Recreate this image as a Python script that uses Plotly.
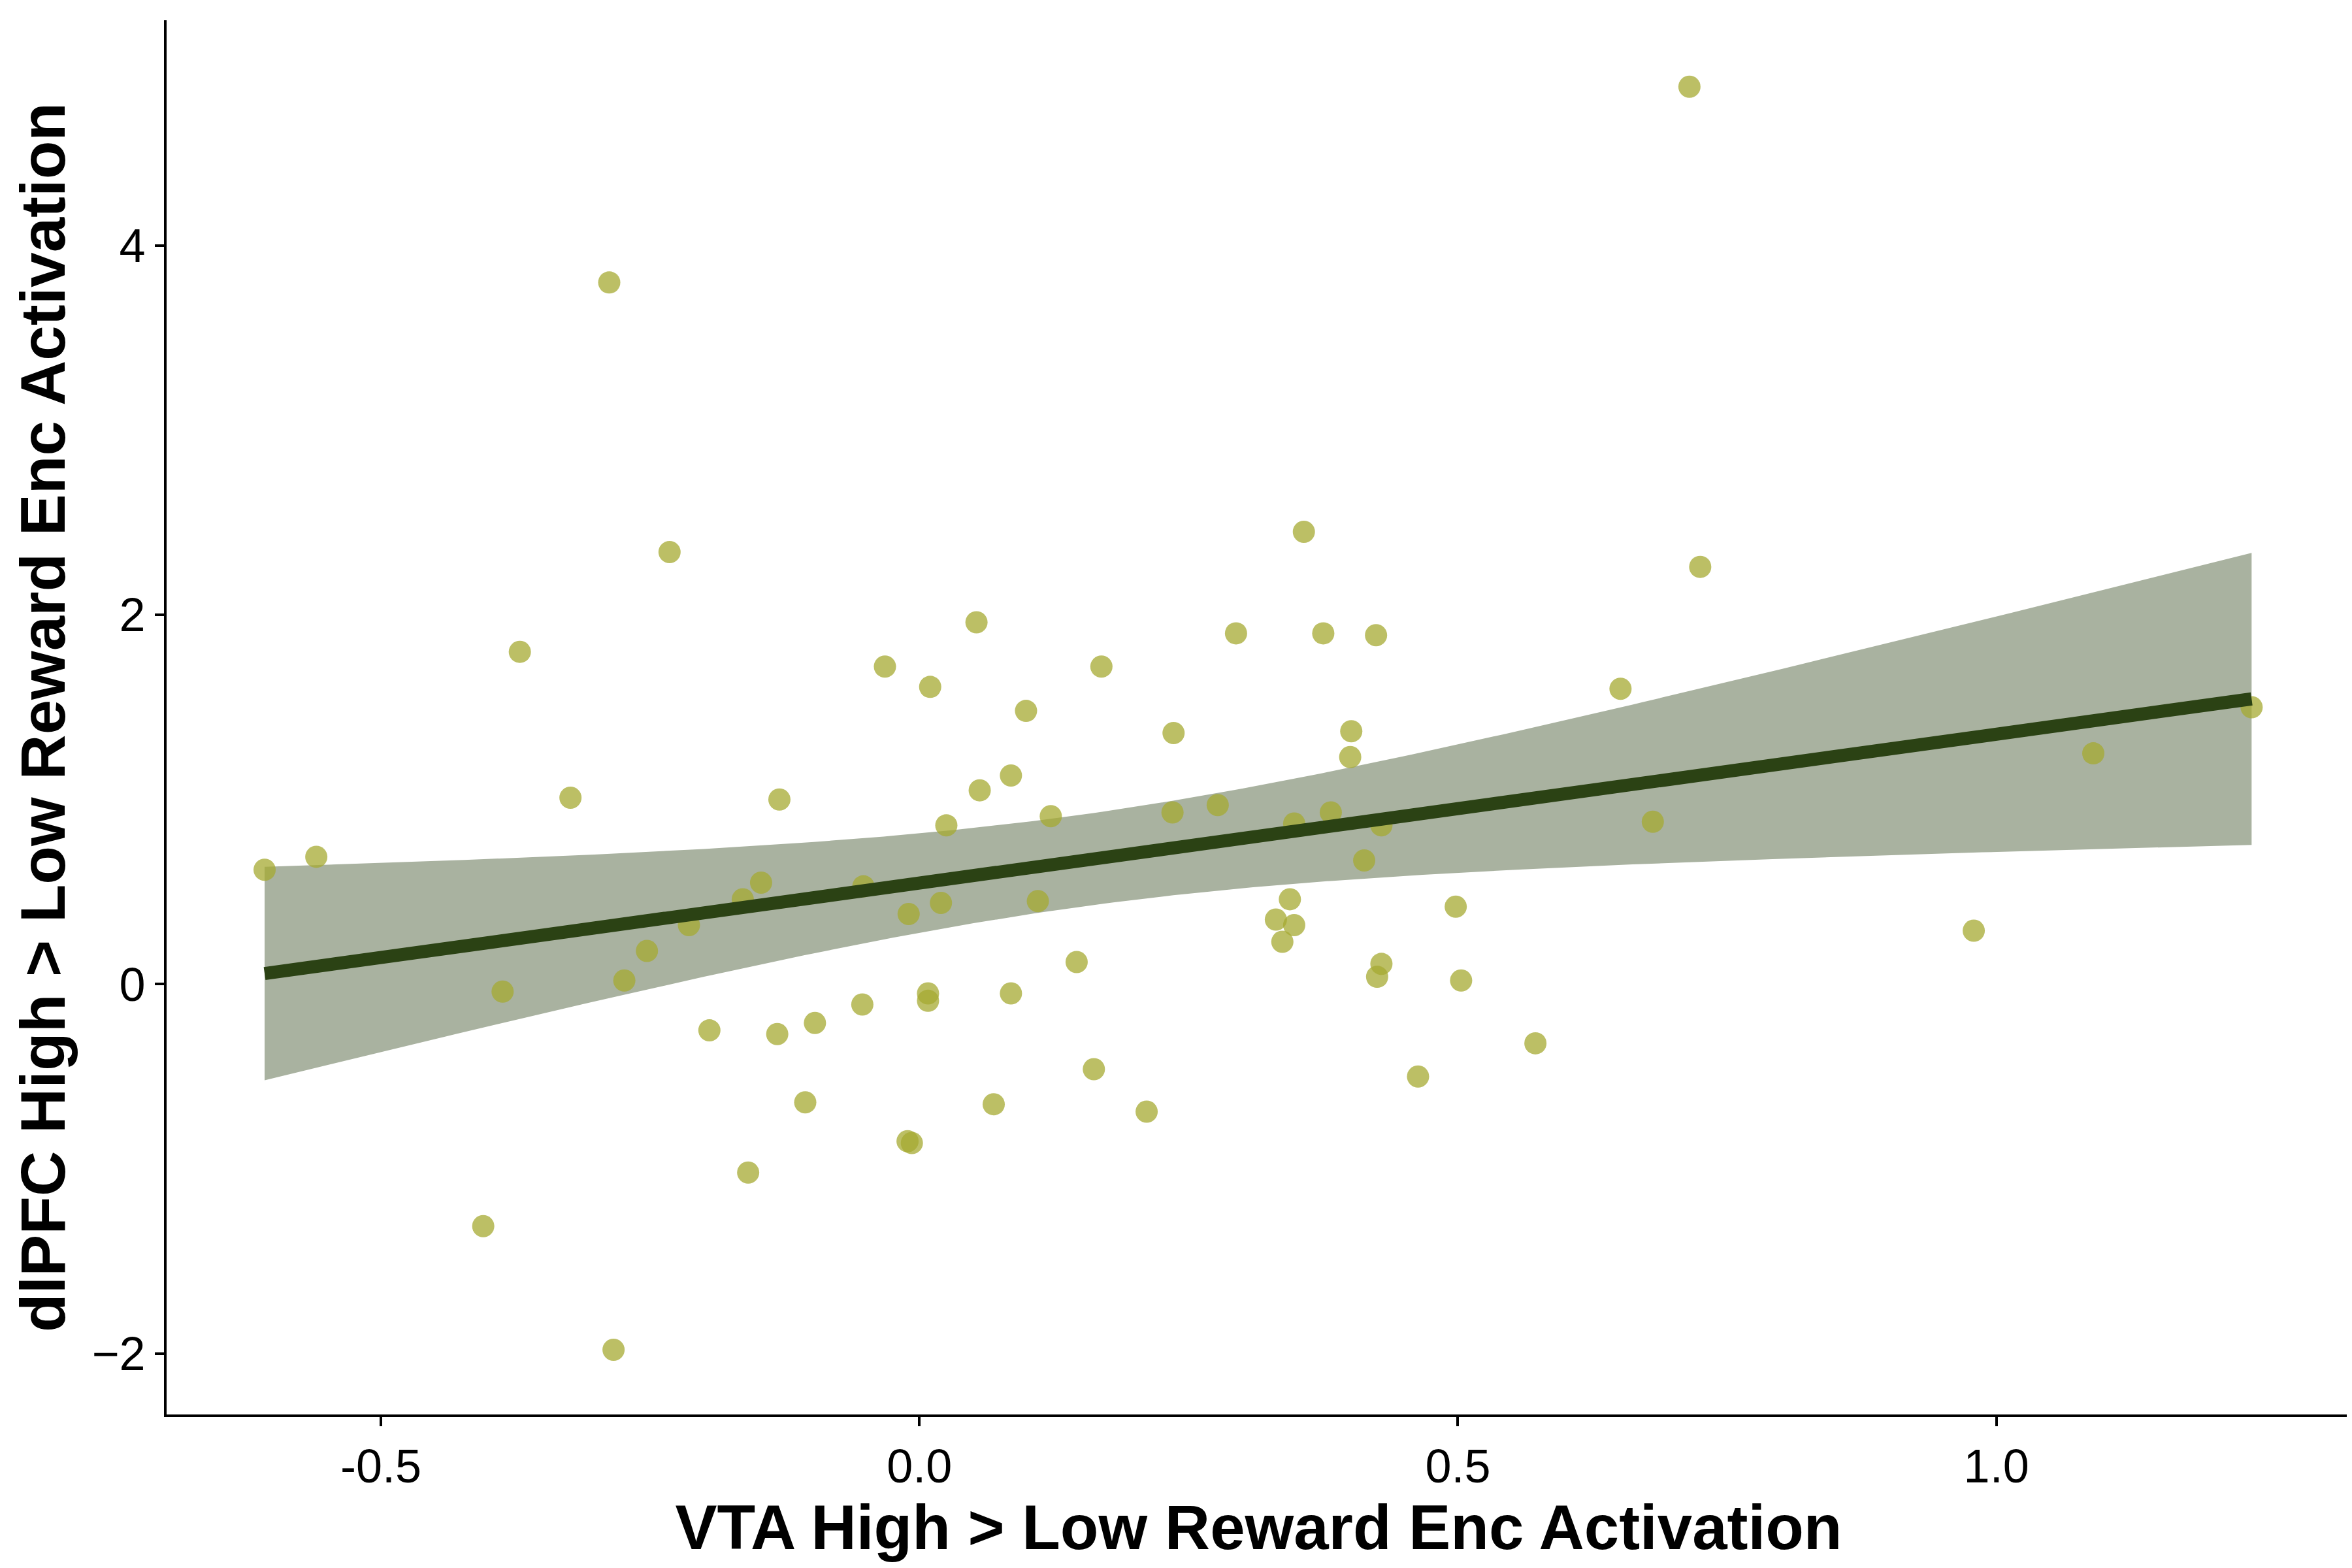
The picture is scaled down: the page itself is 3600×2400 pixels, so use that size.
import numpy as np
import plotly.graph_objects as go

# VTA (x) and dlPFC (y) high > low reward encoding activation
vta = [-0.608, -0.560, -0.387, -0.371, -0.324, -0.405, -0.288, -0.284, -0.274, -0.253,
       -0.232, -0.214, -0.195, -0.164, -0.159, -0.147, -0.132, -0.130, -0.106, -0.097,
       -0.053, -0.052, -0.032, -0.011, -0.007, -0.010, 0.008, 0.008, 0.010, 0.020,
       0.025, 0.053, 0.056, 0.069, 0.085, 0.085, 0.099, 0.110, 0.122, 0.146,
       0.162, 0.169, 0.211, 0.235, 0.236, 0.277, 0.294, 0.331, 0.337, 0.344,
       0.348, 0.348, 0.357, 0.375, 0.382, 0.400, 0.401, 0.413, 0.424, 0.425,
       0.429, 0.429, 0.463, 0.498, 0.503, 0.572, 0.651, 0.681, 0.725, 0.715,
       0.979, 1.090, 1.237]
dlpfc = [0.62, 0.69, -0.04, 1.80, 1.01, -1.31, 3.80, -1.98, 0.02, 0.18,
         2.34, 0.32, -0.25, 0.46, -1.02, 0.55, -0.27, 1.00, -0.64, -0.21,
         -0.11, 0.53, 1.72, -0.85, -0.86, 0.38, -0.05, -0.09, 1.61, 0.44,
         0.86, 1.96, 1.05, -0.65, 1.13, -0.05, 1.48, 0.45, 0.91, 0.12,
         -0.46, 1.72, -0.69, 0.93, 1.36, 0.97, 1.90, 0.35, 0.23, 0.46,
         0.32, 0.87, 2.45, 1.90, 0.93, 1.23, 1.37, 0.67, 1.89, 0.04,
         0.11, 0.86, -0.50, 0.42, 0.02, -0.32, 1.60, 0.88, 2.26, 4.86,
         0.29, 1.25, 1.50]

x = np.array(vta)
y = np.array(dlpfc)
n = len(x)
b1, b0 = np.polyfit(x, y, 1)
xs = np.linspace(x.min(), x.max(), 200)
fit = b0 + b1 * xs
resid = y - (b0 + b1 * x)
s = np.sqrt(np.sum(resid**2) / (n - 2))
se = s * np.sqrt(1/n + (xs - x.mean())**2 / np.sum((x - x.mean())**2))
t = 1.994  # t(0.975, df~71)
upper = fit + t * se
lower = fit - t * se

fig = go.Figure()
fig.add_trace(go.Scatter(x=xs, y=upper, mode="lines", line=dict(width=0),
                         showlegend=False, hoverinfo="skip"))
fig.add_trace(go.Scatter(x=xs, y=lower, mode="lines", line=dict(width=0),
                         fill="tonexty", fillcolor="#A9B2A0",
                         showlegend=False, hoverinfo="skip"))
fig.add_trace(go.Scatter(x=x, y=y, mode="markers",
                         marker=dict(color="rgba(165,170,50,0.75)", size=34, line=dict(width=0)),
                         showlegend=False))
fig.add_trace(go.Scatter(x=xs, y=fit, mode="lines",
                         line=dict(color="#2B4214", width=20), showlegend=False))

axis_common = dict(showgrid=False, zeroline=False, showline=True, linecolor="black",
                   linewidth=4, ticks="outside", ticklen=14, tickwidth=4,
                   tickcolor="black", tickfont=dict(size=72, color="black"))
fig.update_layout(
    width=3600, height=2400,
    plot_bgcolor="white", paper_bgcolor="white",
    font=dict(family="Liberation Sans"),
    margin=dict(l=247, r=10, t=23, b=243),
    xaxis=dict(range=[-0.699, 1.329], tickvals=[-0.5, 0.0, 0.5, 1.0],
               ticktext=["-0.5", "0.0", "0.5", "1.0"],
               title=dict(text="<b>VTA High > Low Reward Enc Activation</b>",
                          font=dict(size=96, color="black"), standoff=10),
               **axis_common),
    yaxis=dict(range=[-2.33, 5.22], tickvals=[-2, 0, 2, 4],
               title=dict(text="<b>dlPFC High > Low Reward Enc Activation</b>",
                          font=dict(size=96, color="black"), standoff=10),
               **axis_common),
)

fig.write_html("out.html")
